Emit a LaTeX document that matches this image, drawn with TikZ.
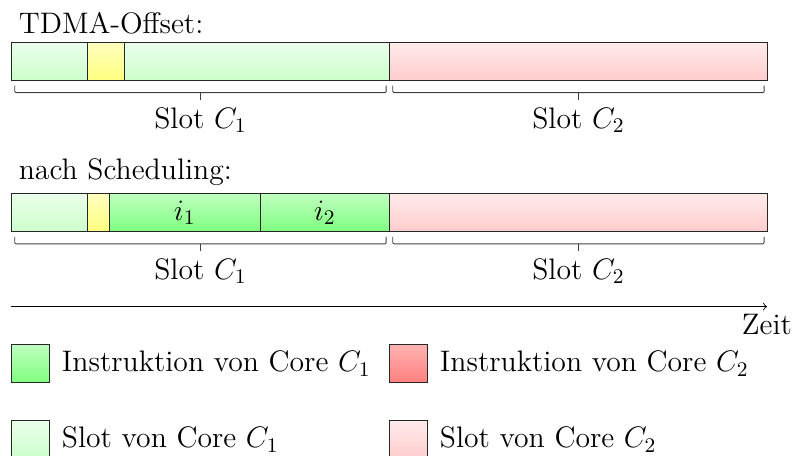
\documentclass[tikz,border=0pt]{standalone}
\usepackage{fix-cm}
\usetikzlibrary{positioning}

\tikzset{
  seg/.style={draw=black!85, anchor=north west, minimum height=0.6cm, inner sep=0pt},
  slotone/.style={seg, top color=green!8, bottom color=green!20},
  slottwo/.style={seg, top color=red!8, bottom color=red!20},
  instrone/.style={seg, top color=green!25, bottom color=green!50},
  instrtwo/.style={seg, top color=red!30, bottom color=red!50},
  offs/.style={seg, top color=yellow!25, bottom color=yellow!50},
  legbox/.style={minimum width=0.6cm},
  bracket/.style={black!75, thin, rounded corners=0.5pt},
}

\begin{document}
\begin{tikzpicture}[font=\fontsize{13.4}{16}\selectfont]
    \useasboundingbox (-0.175,0.667) rectangle (12.397,-6.571);

    % TDMA-Offset
    \node[slotone, minimum width=6cm] (sa1) at (0,0) {};
    \node[slottwo, minimum width=6cm] (sb1) at (6,0) {};
    \node[offs, minimum width=0.6cm] (off1) at (1.2,0) {};
    \node[above right] (title1) at (sa1.north west) {TDMA-Offset:};

    % nach Scheduling
    \node[slotone, minimum width=6cm] (sa2) at (0,-2.4) {};
    \node[slottwo, minimum width=6cm] (sb2) at (6,-2.4) {};
    \node[offs, minimum width=0.35cm] (off2) at (1.2,-2.4) {};
    \node[instrone, minimum width=2.4cm] (i1) at (1.55,-2.4) {$i_1$};
    \node[instrone, minimum width=2.05cm] (i2) at (3.95,-2.4) {$i_2$};
    \node[above right] (title2) at (sa2.north west) {nach Scheduling:};

    % Slot brackets
    \foreach \s/\c in {sa1/C_1, sb1/C_2, sa2/C_1, sb2/C_2} {
        \draw[bracket] ([xshift=0.06cm,yshift=-0.08cm]\s.south west)
            |- ([xshift=-0.06cm,yshift=-0.19cm]\s.south east)
            -- ([xshift=-0.06cm,yshift=-0.08cm]\s.south east);
        \draw[bracket] ([yshift=-0.19cm]\s.south) -- ++(0,-0.11)
            node[below, black] (lbl-\s) {Slot $\c$};
    }

    % Time axis
    \coordinate (t0) at (0,-4.2);
    \coordinate (t1) at (12,-4.2);
    \draw[->] (t0) -- (t1) node[below] (zeit) {Zeit};

    % Legend
    \node[instrone, legbox] (lg1) at (0,-4.8) {};
    \node[right=2pt of lg1] (lt1) {Instruktion von Core $C_1$};
    \node[instrtwo, legbox] (lg2) at (6,-4.8) {};
    \node[right=2pt of lg2] (lt2) {Instruktion von Core $C_2$};
    \node[slotone, legbox] (lg3) at (0,-6) {};
    \node[right=2pt of lg3] (lt3) {Slot von Core $C_1$};
    \node[slottwo, legbox] (lg4) at (6,-6) {};
    \node[right=2pt of lg4] (lt4) {Slot von Core $C_2$};
\end{tikzpicture}
\end{document}
